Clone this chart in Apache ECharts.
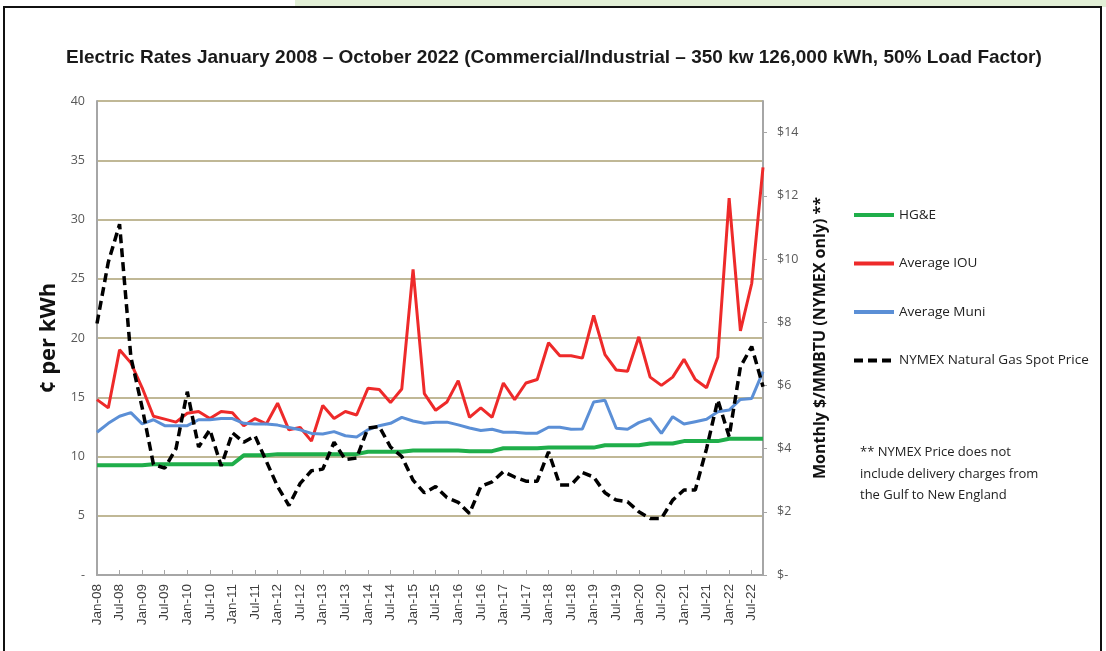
<!DOCTYPE html>
<html>
<head>
<meta charset="utf-8">
<script src="https://cdn.jsdelivr.net/npm/echarts@6/dist/echarts.min.js"></script>
<style>
html, body { margin: 0; padding: 0; background: #fff; }
#grafica { width: 1106px; height: 651px; }
</style>
</head>
<body>
<div id="grafica"></div>
<script>
var meses = ['Jan', 'Apr', 'Jul', 'Oct'];
var anios = ['08', '09', '10', '11', '12', '13', '14', '15', '16', '17', '18', '19', '20', '21', '22'];
var categorias = [];
anios.forEach(function (a) {
    meses.forEach(function (m) { categorias.push(m + '-' + a); });
});

// cents per kWh, quarterly
var hge = [9.27, 9.27, 9.27, 9.27, 9.27, 9.35, 9.35, 9.35, 9.35, 9.35, 9.35, 9.35, 9.35, 10.1, 10.1,
    10.1, 10.2, 10.2, 10.2, 10.2, 10.2, 10.2, 10.2, 10.2, 10.4, 10.4, 10.4, 10.4, 10.5, 10.5,
    10.5, 10.5, 10.5, 10.45, 10.45, 10.45, 10.7, 10.7, 10.7, 10.7, 10.75, 10.75, 10.75, 10.75, 10.75,
    10.95, 10.95, 10.95, 10.95, 11.1, 11.1, 11.1, 11.3, 11.3, 11.3, 11.3, 11.5, 11.5, 11.5, 11.5];
var iou = [14.8, 14.1, 19.0, 17.9, 15.8, 13.4, 13.15, 12.9, 13.65, 13.8, 13.2, 13.8, 13.7, 12.6, 13.2,
    12.75, 14.5, 12.25, 12.45, 11.3, 14.3, 13.2, 13.8, 13.5, 15.75, 15.65, 14.55, 15.7, 25.8, 15.3,
    13.9, 14.6, 16.4, 13.3, 14.1, 13.3, 16.2, 14.8, 16.2, 16.5, 19.6, 18.5, 18.5, 18.3, 21.9,
    18.6, 17.3, 17.2, 20.1, 16.7, 16.0, 16.7, 18.2, 16.5, 15.8, 18.4, 31.8, 20.6, 24.6, 34.4];
var muni = [12.05, 12.8, 13.4, 13.7, 12.75, 13.1, 12.6, 12.6, 12.6, 13.1, 13.1, 13.2, 13.2, 12.8, 12.75,
    12.75, 12.65, 12.45, 12.25, 11.95, 11.9, 12.1, 11.75, 11.65, 12.25, 12.6, 12.8, 13.3, 13.0, 12.8,
    12.9, 12.9, 12.67, 12.4, 12.2, 12.3, 12.05, 12.05, 11.97, 11.97, 12.47, 12.47, 12.3, 12.33, 14.6,
    14.75, 12.38, 12.3, 12.86, 13.2, 11.95, 13.36, 12.74, 12.94, 13.14, 13.78, 13.92, 14.82, 14.9, 17.16];
// $/MMBTU
var nymex = [7.96, 9.9, 11.1, 6.9, 5.3, 3.5, 3.38, 4.0, 5.8, 4.05, 4.6, 3.45, 4.5, 4.2, 4.4,
    3.6, 2.8, 2.2, 2.9, 3.3, 3.35, 4.2, 3.65, 3.7, 4.65, 4.7, 4.05, 3.75, 3.0, 2.6,
    2.8, 2.45, 2.3, 1.95, 2.8, 2.95, 3.27, 3.1, 2.97, 2.97, 3.9, 2.85, 2.85, 3.24, 3.1,
    2.6, 2.37, 2.32, 2.0, 1.79, 1.79, 2.37, 2.69, 2.69, 4.0, 5.54, 4.38, 6.59, 7.23, 5.96];

var ticksIzq = [0, 5, 10, 15, 20, 25, 30, 35, 40];
var ticksDer = [0, 2, 4, 6, 8, 10, 12, 14];

var TITULO = 'Electric Rates January 2008 \u2013 October 2022 (Commercial/Industrial \u2013 350 kw 126,000 kWh, 50% Load Factor)';
var NOTA = '** NYMEX Price does not\ninclude delivery charges from\nthe Gulf to New England';

var FUENTE = '"Open Sans", "Noto Sans", sans-serif';
var ARIAL = '"Liberation Sans", Arial, sans-serif';
var GRIS = '#a6a6a6';

function serie(nombre, datos, color, ancho, eje, tipoLinea) {
    return {
        name: nombre,
        type: 'line',
        data: datos,
        yAxisIndex: eje,
        symbol: 'none',
        smooth: false,
        lineStyle: { color: color, width: ancho, type: tipoLinea || 'solid' },
        itemStyle: { color: color }
    };
}

var grafica = echarts.init(document.getElementById('grafica'));
grafica.setOption({
    animation: false,
    backgroundColor: '#fff',
    title: {
        text: TITULO,
        left: 66,
        top: 48,
        padding: 0,
        textStyle: { fontFamily: ARIAL, fontWeight: 'bold', fontSize: 19, color: '#1a1a1a' }
    },
    graphic: [
        { type: 'rect', shape: { x: 295, y: 0, width: 811, height: 7 }, style: { fill: '#e2efd6' }, z: 0 },
        { type: 'rect', shape: { x: 4, y: 7, width: 1097, height: 660 }, style: { fill: 'none', stroke: '#111', lineWidth: 2 }, z: 0 },
        {
            type: 'text', left: 860, top: 442, z: 10,
            style: { text: NOTA, fontFamily: FUENTE, fontSize: 13, lineHeight: 21.5, fill: '#222' }
        }
    ],
    legend: {
        orient: 'vertical',
        left: 852,
        top: 208,
        padding: 0,
        itemWidth: 40,
        itemHeight: 14,
        itemGap: 34.5,
        itemStyle: { opacity: 0, borderWidth: 0 },
        lineStyle: { width: 4 },
        textStyle: { fontFamily: FUENTE, fontSize: 13.5, color: '#222' },
        data: ['HG&E', 'Average IOU', 'Average Muni', 'NYMEX Natural Gas Spot Price']
    },
    grid: { left: 97, right: 343, top: 101, bottom: 76, containLabel: false },
    xAxis: [{
        type: 'category',
        data: categorias,
        boundaryGap: false,
        axisLine: { lineStyle: { color: GRIS, width: 2 } },
        axisTick: { show: true, inside: true, length: 5, interval: 1, lineStyle: { color: GRIS } },
        axisLabel: {
            interval: 1, rotate: 90, margin: 9,
            fontFamily: ARIAL, fontSize: 13.5, color: '#404040'
        },
        splitLine: { show: false }
    }],
    yAxis: [{
        type: 'value',
        min: 0, max: 40, interval: 5,
        name: '\u00a2 per kWh',
        nameLocation: 'middle',
        nameRotate: 90,
        nameGap: 37,
        nameTextStyle: { fontFamily: FUENTE, fontWeight: 'bold', fontSize: 22, color: '#111' },
        axisLine: { show: true, lineStyle: { color: GRIS, width: 2 } },
        axisTick: { show: false },
        axisLabel: {
            margin: 12, fontFamily: FUENTE, fontSize: 12.5, color: '#595959',
            customValues: ticksIzq,
            formatter: function (v) { return v === 0 ? '-' : String(v); }
        },
        splitLine: { show: true, lineStyle: { color: '#aba073', width: 1.5 } }
    }, {
        type: 'value',
        position: 'right',
        min: 0, max: 15, interval: 1,
        name: 'Monthly $/MMBTU (NYMEX only) **',
        nameLocation: 'middle',
        nameRotate: 90,
        nameGap: 49,
        nameTextStyle: { fontFamily: FUENTE, fontWeight: 'bold', fontSize: 16, color: '#111' },
        axisLine: { show: true, lineStyle: { color: GRIS, width: 2 } },
        axisTick: { show: true, length: 4, customValues: ticksDer, lineStyle: { color: GRIS } },
        axisLabel: {
            margin: 14, fontFamily: FUENTE, fontSize: 12.5, color: '#595959',
            customValues: ticksDer,
            formatter: function (v) { return v === 0 ? '$-' : '$' + v; }
        },
        splitLine: { show: false }
    }],
    series: [
        serie('HG&E', hge, '#1fae4a', 4, 0),
        serie('Average IOU', iou, '#ee2a2a', 3, 0),
        serie('Average Muni', muni, '#5b8fd6', 3, 0),
        serie('NYMEX Natural Gas Spot Price', nymex, '#000', 3.5, 1, [9, 5])
    ]
});
</script>
</body>
</html>
